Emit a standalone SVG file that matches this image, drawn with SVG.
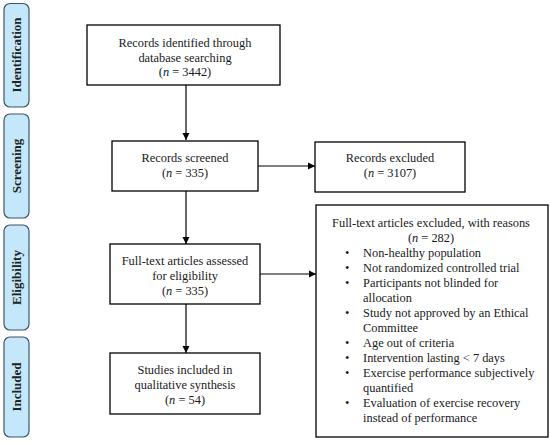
<svg xmlns="http://www.w3.org/2000/svg" width="550" height="444" viewBox="0 0 550 444">
<defs>
<style>
.stage{fill:#c4e8fa;stroke:#3d5566;stroke-width:1.2}
.box{fill:#ffffff;stroke:#000000;stroke-width:1.3}
.t{font-family:"Liberation Serif","DejaVu Serif",serif;font-size:12.4px;fill:#1a1a1a}
.c{text-anchor:middle}
.s{font-family:"Liberation Serif","DejaVu Serif",serif;font-size:13px;font-weight:bold;fill:#222;text-anchor:middle}
.ln{stroke:#000;stroke-width:1.2;fill:none}
</style>
<marker id="ah" markerWidth="8" markerHeight="8" refX="7" refY="4" orient="auto" markerUnits="userSpaceOnUse">
<path d="M0,0.5 L7,4 L0,7.5 Z" fill="#000"/>
</marker>
</defs>
<rect width="550" height="444" fill="#fff"/>
<g id="stage-identification"><rect class="stage" x="4" y="3.5" width="25" height="103.5" rx="6"/><text class="s" transform="translate(21,55) rotate(-90)">Identification</text></g>
<g id="stage-screening"><rect class="stage" x="4" y="114" width="25" height="104" rx="6"/><text class="s" transform="translate(21,166) rotate(-90)">Screening</text></g>
<g id="stage-eligibility"><rect class="stage" x="4" y="225" width="25" height="105" rx="6"/><text class="s" transform="translate(21,277.5) rotate(-90)">Eligibility</text></g>
<g id="stage-included"><rect class="stage" x="4" y="337" width="25" height="100" rx="6"/><text class="s" transform="translate(21,387) rotate(-90)">Included</text></g>
<g id="connectors">
<line class="ln" x1="186" y1="85" x2="186" y2="140" marker-end="url(#ah)"/>
<line class="ln" x1="186" y1="191" x2="186" y2="244" marker-end="url(#ah)"/>
<line class="ln" x1="186" y1="304" x2="186" y2="353" marker-end="url(#ah)"/>
<line class="ln" x1="258" y1="166" x2="315" y2="166" marker-end="url(#ah)"/>
<line class="ln" x1="260" y1="274" x2="316" y2="274" marker-end="url(#ah)"/>
</g>
<g id="identified"><rect class="box" x="87" y="25" width="193" height="60"/>
<text class="t c" x="185" y="47">Records identified through</text>
<text class="t c" x="185" y="61.5">database searching</text>
<text class="t c" x="185" y="76">(<tspan font-style="italic">n</tspan> = 3442)</text></g>
<g id="screened"><rect class="box" x="112" y="141" width="146" height="50"/>
<text class="t c" x="185" y="162">Records screened</text>
<text class="t c" x="185" y="177">(<tspan font-style="italic">n</tspan> = 335)</text></g>
<g id="excluded"><rect class="box" x="315" y="142" width="150" height="50"/>
<text class="t c" x="390" y="162">Records excluded</text>
<text class="t c" x="390" y="177">(<tspan font-style="italic">n</tspan> = 3107)</text></g>
<g id="assessed"><rect class="box" x="110" y="244" width="150" height="60"/>
<text class="t c" x="185" y="265">Full-text articles assessed</text>
<text class="t c" x="185" y="280">for eligibility</text>
<text class="t c" x="185" y="295">(<tspan font-style="italic">n</tspan> = 335)</text></g>
<g id="included"><rect class="box" x="110" y="353" width="150" height="61"/>
<text class="t c" x="185" y="374">Studies included in</text>
<text class="t c" x="185" y="389">qualitative synthesis</text>
<text class="t c" x="185" y="403.5">(<tspan font-style="italic">n</tspan> = 54)</text></g>
<g id="reasons"><rect class="box" x="316" y="205" width="232" height="232"/>
<text class="t c" x="431" y="227">Full-text articles excluded, with reasons</text>
<text class="t c" x="431" y="242">(<tspan font-style="italic">n</tspan> = 282)</text>
<g class="t">
<text x="345" y="257">•</text><text x="363" y="257">Non-healthy population</text>
<text x="345" y="272">•</text><text x="363" y="272">Not randomized controlled trial</text>
<text x="345" y="287">•</text><text x="363" y="287">Participants not blinded for</text>
<text x="363" y="302">allocation</text>
<text x="345" y="317">•</text><text x="363" y="317">Study not approved by an Ethical</text>
<text x="363" y="332">Committee</text>
<text x="345" y="347">•</text><text x="363" y="347">Age out of criteria</text>
<text x="345" y="362">•</text><text x="363" y="362">Intervention lasting &lt; 7 days</text>
<text x="345" y="377">•</text><text x="363" y="377">Exercise performance subjectively</text>
<text x="363" y="392">quantified</text>
<text x="345" y="407">•</text><text x="363" y="407">Evaluation of exercise recovery</text>
<text x="363" y="422">instead of performance</text>
</g></g>
</svg>
